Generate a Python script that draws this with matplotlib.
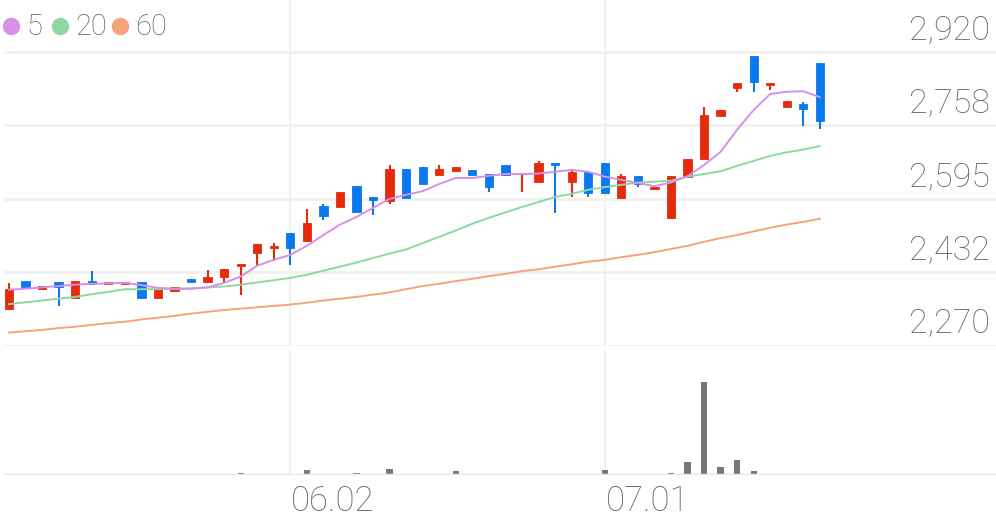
import matplotlib.pyplot as plt
from matplotlib.lines import Line2D
from matplotlib.transforms import offset_copy

plt.rcParams['font.family'] = ['Roboto', 'DejaVu Sans']

# daily candles (won)
opens = [2352, 2414, 2396, 2410, 2376, 2414, 2406, 2406, 2410, 2376,
         2392, 2418, 2411, 2423, 2447, 2476, 2487, 2520, 2502, 2580,
         2577, 2624, 2599, 2591, 2661, 2666, 2648, 2657, 2659, 2650,
         2670, 2649, 2633, 2675, 2633, 2655, 2675, 2597, 2646, 2617,
         2553, 2644, 2683, 2779, 2840, 2911, 2847, 2798, 2805, 2896]
closes = [2396, 2400, 2403, 2400, 2414, 2407, 2410, 2410, 2376, 2396,
          2400, 2411, 2423, 2440, 2450, 2494, 2490, 2487, 2542, 2557,
          2610, 2566, 2593, 2661, 2597, 2628, 2661, 2666, 2648, 2622,
          2648, 2652, 2675, 2670, 2655, 2608, 2608, 2646, 2628, 2622,
          2646, 2683, 2781, 2792, 2851, 2854, 2851, 2812, 2794, 2767]
highs = [2409, 2414, 2403, 2410, 2414, 2436, 2410, 2410, 2410, 2396,
         2400, 2418, 2438, 2440, 2450, 2494, 2498, 2520, 2573, 2584,
         2610, 2624, 2599, 2670, 2661, 2666, 2670, 2666, 2659, 2650,
         2670, 2652, 2679, 2675, 2661, 2655, 2675, 2650, 2646, 2622,
         2646, 2683, 2798, 2792, 2851, 2911, 2851, 2812, 2809, 2896]
lows = [2352, 2400, 2396, 2358, 2376, 2407, 2406, 2406, 2376, 2376,
        2392, 2411, 2411, 2409, 2383, 2449, 2458, 2449, 2502, 2549,
        2577, 2566, 2560, 2584, 2597, 2628, 2648, 2657, 2648, 2610,
        2648, 2610, 2633, 2564, 2599, 2599, 2608, 2597, 2622, 2617,
        2553, 2644, 2683, 2779, 2832, 2832, 2836, 2798, 2756, 2750]

# moving averages as drawn
ma5 = [2394, 2396, 2399, 2402, 2405, 2407, 2408, 2409, 2404, 2398,
       2396, 2396, 2399, 2409, 2423, 2447, 2460, 2471, 2491, 2515,
       2538, 2555, 2575, 2595, 2604, 2612, 2628, 2641, 2641, 2646,
       2650, 2650, 2651, 2655, 2659, 2655, 2644, 2637, 2630, 2623,
       2631, 2645, 2670, 2699, 2748, 2792, 2827, 2832, 2833, 2820]
ma20 = [2362, 2366, 2370, 2374, 2378, 2384, 2389, 2395, 2395, 2395,
        2396, 2397, 2399, 2401, 2405, 2410, 2415, 2420, 2427, 2436,
        2445, 2454, 2464, 2474, 2483, 2497, 2511, 2525, 2540, 2553,
        2565, 2577, 2588, 2599, 2606, 2615, 2621, 2626, 2631, 2633,
        2635, 2644, 2650, 2656, 2668, 2679, 2690, 2698, 2704, 2712]
ma60 = [2299, 2302, 2305, 2309, 2312, 2316, 2320, 2323, 2328, 2332,
        2336, 2341, 2345, 2349, 2352, 2355, 2358, 2361, 2365, 2370,
        2374, 2378, 2383, 2388, 2395, 2402, 2407, 2413, 2418, 2424,
        2429, 2435, 2439, 2445, 2450, 2456, 2460, 2466, 2471, 2477,
        2484, 2491, 2500, 2508, 2515, 2523, 2531, 2538, 2544, 2551]

# volume, thousand shares
volume = [5, 3, 3, 3, 3, 10, 3, 10, 10, 10,
          10, 3, 3, 15, 20, 15, 15, 15, 50, 10,
          15, 25, 5, 60, 5, 3, 10, 45, 5, 10,
          10, 15, 5, 8, 10, 10, 50, 3, 5, 5,
          18, 130, 930, 85, 155, 45, 10, 8, 15, 10]

date_ticks = [17, 36]
date_labels = ["06.02", "07.01"]
price_ticks = [2270, 2432, 2595, 2758, 2920]
price_labels = ["2,270", "2,432", "2,595", "2,758", "2,920"]
ma_names = ["5", "20", "60"]

RED = "#e62a0c"
BLUE = "#0a78ee"
MA_COLORS = ["#d690e8", "#8ed9a1", "#f6a37c"]
GRID = "#f0f0f0"
TXT = "#666666"

W, H = 996, 519
fig = plt.figure(figsize=(W / 100, H / 100), dpi=100)

def fx(px):
    return px / W

def fy(py):
    return 1 - py / H

ax = fig.add_axes([fx(4), fy(345.7), (W - 4) / W, 345.7 / H])
axv = fig.add_axes([fx(4), fy(475), (W - 4) / W, 125 / H])

xs = list(range(len(opens)))
x_min, x_max = -0.3, 59.64

for a in (ax, axv):
    a.set_xlim(x_min, x_max)
    for s in a.spines.values():
        s.set_visible(False)
    a.set_xticks([])
    a.set_yticks([])
    for t in date_ticks:
        a.axvline(t, color=GRID, lw=1.5, zorder=0)

ax.set_ylim(2270, 3035)
for p in price_ticks:
    ax.axhline(p, color=GRID, lw=2, zorder=0)

# candles
colors = [RED if c >= o else BLUE for o, c in zip(opens, closes)]
ax.vlines(xs, lows, highs, colors=colors, lw=1.5, zorder=2)
bottoms = [min(o, c) for o, c in zip(opens, closes)]
heights = [max(abs(c - o), 2) for o, c in zip(opens, closes)]
ax.bar(xs, heights, bottom=bottoms, width=0.5, color=colors,
       edgecolor=colors, linewidth=0.6, zorder=3)

# moving averages
for ma, col in zip([ma60, ma20, ma5], MA_COLORS[::-1]):
    ax.plot(xs, ma, color=col, lw=1.4, zorder=4)

# price labels
lbl_tr = offset_copy(ax.get_yaxis_transform(), fig=fig, y=13, units='dots')
for p, s in zip(price_ticks, price_labels):
    ax.text((990 - 4) / (W - 4), p, s, transform=lbl_tr, ha='right',
            va='baseline', fontsize=24.5, color=TXT, fontweight='light')

# volume
axv.set_ylim(0, 1250)
axv.bar(xs, volume, width=0.38, color="#777777", zorder=2)
axv.axhline(0, color="#e6e6e6", lw=2.5, zorder=3)

# date labels
for t, s in zip(date_ticks, date_labels):
    px = 9 + 16.55 * t + 1
    fig.text(fx(px), fy(511), s, ha='left', va='baseline', fontsize=25,
             color=TXT, fontweight='light')

# legend
leg_x = [10.5, 60.3, 120.3]
txt_x = [26, 75.5, 135.5]
for cx, tx, col, name in zip(leg_x, txt_x, MA_COLORS, ma_names):
    fig.add_artist(Line2D([fx(cx)], [fy(26.3)], marker='o', ls='',
                          markersize=11.5, color=col,
                          transform=fig.transFigure))
    fig.text(fx(tx), fy(35), name, ha='left', va='baseline', fontsize=21,
             color=TXT, fontweight='light')

fig.savefig("out.png", dpi=100, facecolor="white")
